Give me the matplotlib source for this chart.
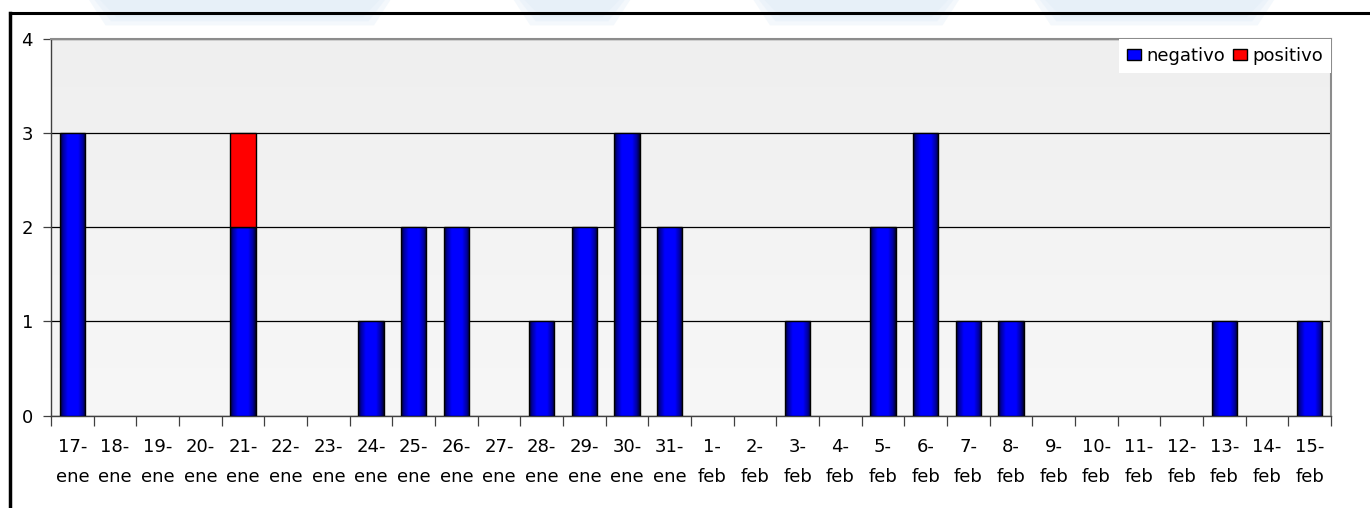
import numpy as np
import matplotlib.pyplot as plt
from matplotlib.colors import LinearSegmentedColormap
from matplotlib.lines import Line2D
from matplotlib.patches import Patch, Polygon

plt.rcParams["font.family"] = ["DejaVu Sans"]

# Daily counts, 17-ene to 15-feb
dias = [
    "17-\nene", "18-\nene", "19-\nene", "20-\nene", "21-\nene", "22-\nene",
    "23-\nene", "24-\nene", "25-\nene", "26-\nene", "27-\nene", "28-\nene",
    "29-\nene", "30-\nene", "31-\nene", "1-\nfeb", "2-\nfeb", "3-\nfeb",
    "4-\nfeb", "5-\nfeb", "6-\nfeb", "7-\nfeb", "8-\nfeb", "9-\nfeb",
    "10-\nfeb", "11-\nfeb", "12-\nfeb", "13-\nfeb", "14-\nfeb", "15-\nfeb",
]
negativo = [3, 0, 0, 0, 2, 0, 0, 1, 2, 2, 0, 1, 2, 3, 2,
            0, 0, 1, 0, 2, 3, 1, 1, 0, 0, 0, 0, 1, 0, 1]
positivo = [0, 0, 0, 0, 1, 0, 0, 0, 0, 0, 0, 0, 0, 0, 0,
            0, 0, 0, 0, 0, 0, 0, 0, 0, 0, 0, 0, 0, 0, 0]

fig = plt.figure(figsize=(13.7, 5.08), dpi=100)
fig.patch.set_facecolor("white")

# faint blue shapes behind the top edge
for x0, x1 in [(0.065, 0.285), (0.375, 0.46), (0.55, 0.70), (0.755, 0.93)]:
    for k in range(3):
        d = 0.004 * k
        fig.patches.append(Polygon([(x0 + d, 1.0), (x1 - d, 1.0), (x1 - 0.012 - d, 0.95 + d * 2),
                                    (x0 + 0.012 + d, 0.95 + d * 2)],
                                   closed=True, transform=fig.transFigure, alpha=0.3,
                                   facecolor="#dceaf6", edgecolor="none", zorder=0))

# outer frame (left and top)
fig.add_artist(Line2D([10 / 1370, 10 / 1370], [0, 1 - 13 / 508], transform=fig.transFigure,
                      color="black", lw=2.5, solid_capstyle="projecting"))
fig.add_artist(Line2D([10 / 1370, 1], [1 - 13 / 508, 1 - 13 / 508], transform=fig.transFigure,
                      color="black", lw=2.2, solid_capstyle="projecting"))

ax = fig.add_axes([51 / 1370, 1 - 415.6 / 508, 1280 / 1370, 376.6 / 508])
ax.set_facecolor("none")

# plot area gradient
bg = np.linspace(0, 1, 256).reshape(-1, 1)
bg_cmap = LinearSegmentedColormap.from_list("bg", ["#f7f7f7", "#efefef"])
ax.imshow(bg, extent=[0, 1, 0, 1], transform=ax.transAxes, cmap=bg_cmap,
          aspect="auto", origin="lower", zorder=0)

x = np.arange(len(dias))
ancho = 0.59
b_neg = ax.bar(x, negativo, ancho, color="#0000ff", edgecolor="black", lw=1.0, zorder=3,
               label="negativo")
b_pos = ax.bar(x, positivo, ancho, bottom=negativo, color="#ff0000", edgecolor="black",
               lw=1.0, zorder=3, label="positivo")

# cylinder-like shading on the blue bars
blue_cmap = LinearSegmentedColormap.from_list(
    "azul", [(0, "#000030"), (0.12, "#0000a0"), (0.3, "#0000ff"), (0.7, "#0000ff"),
             (0.88, "#0000a0"), (1, "#000030")])
grad = np.linspace(0, 1, 64).reshape(1, -1)
for p in b_neg.patches:
    if p.get_height() <= 0:
        p.set_visible(False)
        continue
    ax.imshow(grad, extent=[p.get_x(), p.get_x() + p.get_width(), p.get_y(),
                            p.get_y() + p.get_height()],
              cmap=blue_cmap, aspect="auto", zorder=3.5)
    p.set_facecolor("none")
    p.set_zorder(4)
for p in b_pos.patches:
    if p.get_height() <= 0:
        p.set_visible(False)
    p.set_zorder(4)

ax.set_xlim(-0.5, len(dias) - 0.5)
ax.set_ylim(0, 4)

ax.set_yticks([0, 1, 2, 3, 4])
ax.set_yticklabels(["0", "1", "2", "3", "4"])
ax.grid(axis="y", color="black", lw=0.9, zorder=1)
ax.tick_params(axis="y", length=6, width=0.9, color="#404040", pad=7, labelsize=13)

ax.set_xticks(x)
ax.set_xticklabels(dias, fontsize=13, linespacing=1.85)
ax.set_xticks(np.arange(len(dias) + 1) - 0.5, minor=True)
ax.tick_params(axis="x", which="major", length=0, pad=16)
ax.tick_params(axis="x", which="minor", length=7, width=0.9, color="#404040")

for side in ["left", "bottom"]:
    ax.spines[side].set_color("#404040")
    ax.spines[side].set_linewidth(1.0)
for side in ["top", "right"]:
    ax.spines[side].set_color("#8c8c8c")
    ax.spines[side].set_linewidth(1.5)

leg = ax.legend(handles=[Patch(facecolor="#0000ff", edgecolor="black", label="negativo"),
                         Patch(facecolor="#ff0000", edgecolor="black", label="positivo")],
                loc="upper right", ncol=2, fontsize=13, frameon=True, fancybox=False,
                borderaxespad=0, borderpad=0.45, handlelength=0.75, handleheight=0.6,
                handletextpad=0.3, columnspacing=0.45)
leg.get_frame().set_facecolor("white")
leg.get_frame().set_edgecolor("none")
leg.get_frame().set_alpha(1)
leg.set_zorder(5)

fig.savefig("out.png", dpi=100)
